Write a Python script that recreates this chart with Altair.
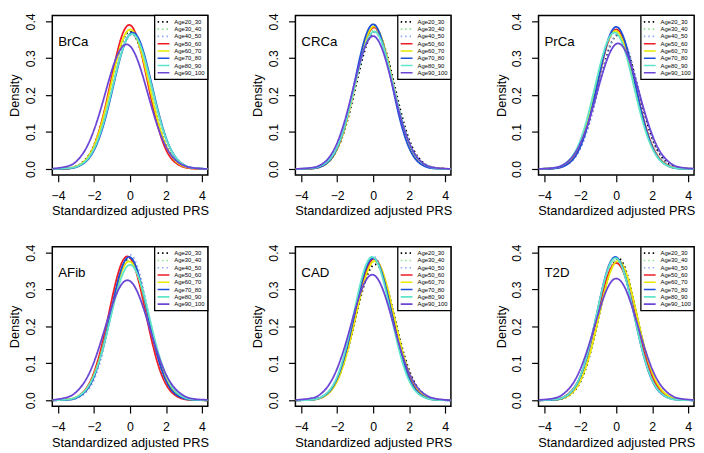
import altair as alt
import pandas as pd

FONT = "Liberation Sans"

# Grid of standardized adjusted PRS values at which the curves were read
X_GRID = [-4.3, -3.5, -3, -2.5, -2, -1.5, -1, -0.5, 0, 0.5, 1, 1.5, 2, 2.5, 3, 3.5, 4.3]

AGE_GROUPS = ["Age20_30", "Age30_40", "Age40_50", "Age50_60",
              "Age60_70", "Age70_80", "Age80_90", "Age90_100"]
AGE_COLORS = ["#000000", "#8FE38F", "#8FA8F0", "#EE1C25",
              "#E8E800", "#1E4FD8", "#5FE6C8", "#6B46D6"]
AGE_DASHES = [[1.5, 3], [1.5, 3], [1.5, 3], [1, 0],
              [1, 0], [1, 0], [1, 0], [1, 0]]

PANELS = ["BrCa", "CRCa", "PrCa", "AFib", "CAD", "T2D"]

# ---- density values (one list per age group) ----
BrCa_Age20_30 = [0.000, 0.002, 0.007, 0.025, 0.065, 0.140, 0.241, 0.334, 0.372, 0.334, 0.241, 0.140, 0.065, 0.025, 0.007, 0.002, 0.000]
BrCa_Age30_40 = [0.000, 0.001, 0.006, 0.021, 0.058, 0.129, 0.230, 0.329, 0.376, 0.344, 0.252, 0.148, 0.070, 0.026, 0.008, 0.002, 0.000]
BrCa_Age40_50 = [0.000, 0.002, 0.007, 0.022, 0.059, 0.126, 0.220, 0.312, 0.361, 0.339, 0.259, 0.162, 0.082, 0.034, 0.011, 0.003, 0.000]
BrCa_Age50_60 = [0.000, 0.001, 0.006, 0.022, 0.063, 0.143, 0.253, 0.354, 0.390, 0.338, 0.230, 0.124, 0.052, 0.018, 0.005, 0.001, 0.000]
BrCa_Age60_70 = [0.000, 0.002, 0.007, 0.023, 0.063, 0.138, 0.241, 0.338, 0.378, 0.338, 0.241, 0.138, 0.063, 0.023, 0.007, 0.002, 0.000]
BrCa_Age70_80 = [0.000, 0.001, 0.005, 0.018, 0.051, 0.115, 0.210, 0.309, 0.366, 0.351, 0.271, 0.169, 0.085, 0.034, 0.011, 0.003, 0.000]
BrCa_Age80_90 = [0.000, 0.002, 0.006, 0.020, 0.055, 0.121, 0.216, 0.311, 0.364, 0.344, 0.264, 0.164, 0.083, 0.034, 0.011, 0.003, 0.000]
BrCa_Age90_100 = [0.001, 0.007, 0.020, 0.051, 0.106, 0.184, 0.269, 0.327, 0.333, 0.284, 0.202, 0.120, 0.060, 0.025, 0.009, 0.003, 0.000]

CRCa_Age20_30 = [0.000, 0.001, 0.005, 0.019, 0.053, 0.119, 0.216, 0.315, 0.370, 0.349, 0.266, 0.163, 0.080, 0.032, 0.010, 0.003, 0.000]
CRCa_Age30_40 = [0.000, 0.001, 0.006, 0.021, 0.058, 0.129, 0.230, 0.329, 0.376, 0.344, 0.252, 0.148, 0.070, 0.026, 0.008, 0.002, 0.000]
CRCa_Age40_50 = [0.000, 0.002, 0.007, 0.023, 0.061, 0.132, 0.230, 0.325, 0.370, 0.339, 0.251, 0.150, 0.072, 0.028, 0.009, 0.002, 0.000]
CRCa_Age50_60 = [0.000, 0.001, 0.005, 0.019, 0.055, 0.127, 0.230, 0.333, 0.383, 0.349, 0.253, 0.145, 0.066, 0.024, 0.007, 0.002, 0.000]
CRCa_Age60_70 = [0.000, 0.001, 0.005, 0.018, 0.054, 0.125, 0.230, 0.335, 0.386, 0.351, 0.253, 0.144, 0.065, 0.023, 0.007, 0.002, 0.000]
CRCa_Age70_80 = [0.000, 0.001, 0.005, 0.019, 0.057, 0.132, 0.242, 0.347, 0.392, 0.347, 0.242, 0.132, 0.057, 0.019, 0.005, 0.001, 0.000]
CRCa_Age80_90 = [0.000, 0.002, 0.007, 0.022, 0.060, 0.131, 0.230, 0.326, 0.372, 0.341, 0.251, 0.149, 0.071, 0.027, 0.009, 0.002, 0.000]
CRCa_Age90_100 = [0.000, 0.003, 0.009, 0.028, 0.071, 0.144, 0.240, 0.325, 0.360, 0.325, 0.240, 0.144, 0.071, 0.028, 0.009, 0.003, 0.000]

PrCa_Age20_30 = [0.000, 0.002, 0.007, 0.022, 0.059, 0.126, 0.220, 0.312, 0.361, 0.339, 0.259, 0.162, 0.082, 0.034, 0.011, 0.003, 0.000]
PrCa_Age30_40 = [0.000, 0.002, 0.007, 0.025, 0.065, 0.140, 0.241, 0.334, 0.372, 0.334, 0.241, 0.140, 0.065, 0.025, 0.007, 0.002, 0.000]
PrCa_Age40_50 = [0.000, 0.002, 0.006, 0.020, 0.055, 0.121, 0.216, 0.311, 0.364, 0.344, 0.264, 0.164, 0.083, 0.034, 0.011, 0.003, 0.000]
PrCa_Age50_60 = [0.000, 0.002, 0.007, 0.023, 0.063, 0.138, 0.241, 0.338, 0.378, 0.338, 0.241, 0.138, 0.063, 0.023, 0.007, 0.002, 0.000]
PrCa_Age60_70 = [0.000, 0.002, 0.008, 0.027, 0.070, 0.149, 0.252, 0.342, 0.374, 0.327, 0.230, 0.130, 0.059, 0.022, 0.006, 0.002, 0.000]
PrCa_Age70_80 = [0.000, 0.001, 0.006, 0.021, 0.060, 0.135, 0.242, 0.343, 0.385, 0.343, 0.242, 0.135, 0.060, 0.021, 0.006, 0.001, 0.000]
PrCa_Age80_90 = [0.000, 0.003, 0.010, 0.031, 0.078, 0.159, 0.261, 0.345, 0.368, 0.317, 0.220, 0.123, 0.056, 0.020, 0.006, 0.001, 0.000]
PrCa_Age90_100 = [0.000, 0.003, 0.010, 0.029, 0.069, 0.134, 0.219, 0.298, 0.339, 0.321, 0.253, 0.167, 0.092, 0.042, 0.016, 0.005, 0.001]

AFib_Age20_30 = [0.000, 0.002, 0.007, 0.024, 0.066, 0.145, 0.253, 0.350, 0.385, 0.334, 0.230, 0.126, 0.054, 0.019, 0.005, 0.001, 0.000]
AFib_Age30_40 = [0.000, 0.002, 0.007, 0.025, 0.068, 0.146, 0.252, 0.347, 0.380, 0.331, 0.230, 0.128, 0.057, 0.020, 0.006, 0.001, 0.000]
AFib_Age40_50 = [0.000, 0.001, 0.005, 0.019, 0.056, 0.132, 0.242, 0.349, 0.394, 0.349, 0.242, 0.132, 0.056, 0.019, 0.005, 0.001, 0.000]
AFib_Age50_60 = [0.000, 0.002, 0.008, 0.028, 0.076, 0.163, 0.276, 0.368, 0.386, 0.319, 0.207, 0.106, 0.043, 0.014, 0.003, 0.001, 0.000]
AFib_Age60_70 = [0.000, 0.002, 0.008, 0.026, 0.070, 0.148, 0.252, 0.344, 0.376, 0.329, 0.230, 0.129, 0.058, 0.021, 0.006, 0.001, 0.000]
AFib_Age70_80 = [0.000, 0.001, 0.006, 0.023, 0.064, 0.144, 0.253, 0.353, 0.388, 0.336, 0.230, 0.125, 0.053, 0.018, 0.005, 0.001, 0.000]
AFib_Age80_90 = [0.000, 0.002, 0.008, 0.026, 0.068, 0.142, 0.240, 0.330, 0.367, 0.330, 0.240, 0.142, 0.068, 0.026, 0.008, 0.002, 0.000]
AFib_Age90_100 = [0.001, 0.008, 0.022, 0.052, 0.104, 0.178, 0.256, 0.312, 0.323, 0.283, 0.210, 0.132, 0.070, 0.032, 0.012, 0.004, 0.001]

CAD_Age20_30 = [0.000, 0.001, 0.006, 0.020, 0.054, 0.121, 0.216, 0.313, 0.366, 0.346, 0.265, 0.164, 0.082, 0.033, 0.011, 0.003, 0.000]
CAD_Age30_40 = [0.000, 0.001, 0.006, 0.021, 0.058, 0.129, 0.230, 0.329, 0.376, 0.344, 0.252, 0.148, 0.070, 0.026, 0.008, 0.002, 0.000]
CAD_Age40_50 = [0.000, 0.001, 0.005, 0.020, 0.058, 0.133, 0.242, 0.346, 0.390, 0.346, 0.242, 0.133, 0.058, 0.020, 0.005, 0.001, 0.000]
CAD_Age50_60 = [0.000, 0.001, 0.005, 0.019, 0.055, 0.127, 0.230, 0.333, 0.383, 0.349, 0.253, 0.145, 0.066, 0.024, 0.007, 0.002, 0.000]
CAD_Age60_70 = [0.000, 0.001, 0.005, 0.018, 0.052, 0.120, 0.220, 0.322, 0.376, 0.352, 0.263, 0.157, 0.075, 0.029, 0.009, 0.002, 0.000]
CAD_Age70_80 = [0.000, 0.001, 0.006, 0.021, 0.060, 0.135, 0.242, 0.343, 0.385, 0.343, 0.242, 0.135, 0.060, 0.021, 0.006, 0.001, 0.000]
CAD_Age80_90 = [0.000, 0.001, 0.006, 0.023, 0.064, 0.144, 0.253, 0.353, 0.388, 0.336, 0.230, 0.125, 0.053, 0.018, 0.005, 0.001, 0.000]
CAD_Age90_100 = [0.001, 0.005, 0.014, 0.039, 0.086, 0.158, 0.245, 0.316, 0.340, 0.305, 0.228, 0.142, 0.074, 0.032, 0.012, 0.004, 0.000]

T2D_Age20_30 = [0.000, 0.001, 0.004, 0.017, 0.049, 0.117, 0.219, 0.326, 0.383, 0.357, 0.264, 0.155, 0.072, 0.026, 0.008, 0.002, 0.000]
T2D_Age30_40 = [0.000, 0.001, 0.005, 0.019, 0.055, 0.127, 0.230, 0.333, 0.383, 0.349, 0.253, 0.145, 0.066, 0.024, 0.007, 0.002, 0.000]
T2D_Age40_50 = [0.000, 0.002, 0.007, 0.023, 0.063, 0.138, 0.241, 0.338, 0.378, 0.338, 0.241, 0.138, 0.063, 0.023, 0.007, 0.002, 0.000]
T2D_Age50_60 = [0.000, 0.002, 0.007, 0.025, 0.065, 0.140, 0.241, 0.334, 0.372, 0.334, 0.241, 0.140, 0.065, 0.025, 0.007, 0.002, 0.000]
T2D_Age60_70 = [0.000, 0.001, 0.005, 0.018, 0.052, 0.120, 0.220, 0.322, 0.376, 0.352, 0.263, 0.157, 0.075, 0.029, 0.009, 0.002, 0.000]
T2D_Age70_80 = [0.000, 0.001, 0.006, 0.023, 0.064, 0.144, 0.253, 0.353, 0.388, 0.336, 0.230, 0.125, 0.053, 0.018, 0.005, 0.001, 0.000]
T2D_Age80_90 = [0.000, 0.002, 0.007, 0.024, 0.066, 0.145, 0.253, 0.350, 0.385, 0.334, 0.230, 0.126, 0.054, 0.019, 0.005, 0.001, 0.000]
T2D_Age90_100 = [0.001, 0.005, 0.015, 0.039, 0.084, 0.153, 0.234, 0.303, 0.330, 0.303, 0.234, 0.153, 0.084, 0.039, 0.015, 0.005, 0.001]

CURVES = {
    "BrCa": [BrCa_Age20_30, BrCa_Age30_40, BrCa_Age40_50, BrCa_Age50_60,
             BrCa_Age60_70, BrCa_Age70_80, BrCa_Age80_90, BrCa_Age90_100],
    "CRCa": [CRCa_Age20_30, CRCa_Age30_40, CRCa_Age40_50, CRCa_Age50_60,
             CRCa_Age60_70, CRCa_Age70_80, CRCa_Age80_90, CRCa_Age90_100],
    "PrCa": [PrCa_Age20_30, PrCa_Age30_40, PrCa_Age40_50, PrCa_Age50_60,
             PrCa_Age60_70, PrCa_Age70_80, PrCa_Age80_90, PrCa_Age90_100],
    "AFib": [AFib_Age20_30, AFib_Age30_40, AFib_Age40_50, AFib_Age50_60,
             AFib_Age60_70, AFib_Age70_80, AFib_Age80_90, AFib_Age90_100],
    "CAD": [CAD_Age20_30, CAD_Age30_40, CAD_Age40_50, CAD_Age50_60,
            CAD_Age60_70, CAD_Age70_80, CAD_Age80_90, CAD_Age90_100],
    "T2D": [T2D_Age20_30, T2D_Age30_40, T2D_Age40_50, T2D_Age50_60,
            T2D_Age60_70, T2D_Age70_80, T2D_Age80_90, T2D_Age90_100],
}

X_TICKS = [-4, -2, 0, 2, 4]
Y_TICKS = [0.0, 0.1, 0.2, 0.3, 0.4]
X_DOMAIN = [-4.32, 4.32]
Y_DOMAIN = [-0.016, 0.416]

W, H = 158, 162
LEG_W, LEG_H = 54, 65  # legend frame size in pixels


def make_legend():
    return alt.Legend(
        title=None, orient="top-right", offset=0, padding=3,
        symbolType="stroke", symbolSize=144, symbolStrokeWidth=1.6,
        labelFont=FONT, labelFontSize=6, labelColor="black", labelOffset=4,
        clipHeight=7, rowPadding=0.4,
    )


def panel(name):
    rows = []
    for age, vals in zip(AGE_GROUPS, CURVES[name]):
        for xv, yv in zip(X_GRID, vals):
            rows.append({"age": age, "x": xv, "density": yv})
    df = pd.DataFrame(rows)

    lines = alt.Chart(df).mark_line(
        interpolate="natural", strokeWidth=1.8, clip=True
    ).encode(
        x=alt.X("x:Q",
                scale=alt.Scale(domain=X_DOMAIN, nice=False, zero=False),
                axis=alt.Axis(values=X_TICKS, format="d",
                              title="Standardized adjusted PRS")),
        y=alt.Y("density:Q",
                scale=alt.Scale(domain=Y_DOMAIN, nice=False, zero=False),
                axis=alt.Axis(values=Y_TICKS, format=".1f", title="Density",
                              labelAngle=270, labelAlign="center",
                              labelBaseline="bottom")),
        color=alt.Color("age:N", title=None, legend=make_legend(),
                        scale=alt.Scale(domain=AGE_GROUPS, range=AGE_COLORS)),
        strokeDash=alt.StrokeDash("age:N", title=None, legend=make_legend(),
                                  scale=alt.Scale(domain=AGE_GROUPS, range=AGE_DASHES)),
    )

    frame = alt.Chart(pd.DataFrame({"t": [name]})).mark_rect(
        fill="white", stroke="black", strokeWidth=1.3
    ).encode(
        x=alt.value(W - LEG_W), x2=alt.value(W),
        y=alt.value(0), y2=alt.value(LEG_H),
    )

    label = alt.Chart(pd.DataFrame({"t": [name]})).mark_text(
        align="left", baseline="alphabetic", font=FONT, fontSize=13.5, color="black"
    ).encode(x=alt.value(6), y=alt.value(31), text="t:N")

    return alt.layer(lines, frame, label).properties(width=W, height=H)


chart = alt.concat(
    *[panel(p) for p in PANELS], columns=3,
    spacing={"row": 73, "column": 89}, bounds="flush", padding=0
).resolve_scale(
    color="independent", strokeDash="independent"
).configure_view(
    stroke="black", strokeWidth=1.5
).configure_axis(
    domain=False, grid=False,
    tickColor="black", tickSize=7, tickWidth=1.2,
    labelFont=FONT, labelFontSize=12.5, labelColor="black", labelPadding=8,
    titleFont=FONT, titleFontSize=13, titleFontWeight="normal",
    titleColor="black", titlePadding=3,
)

chart.save("out.html", embed_options={"renderer": "svg", "actions": False})
